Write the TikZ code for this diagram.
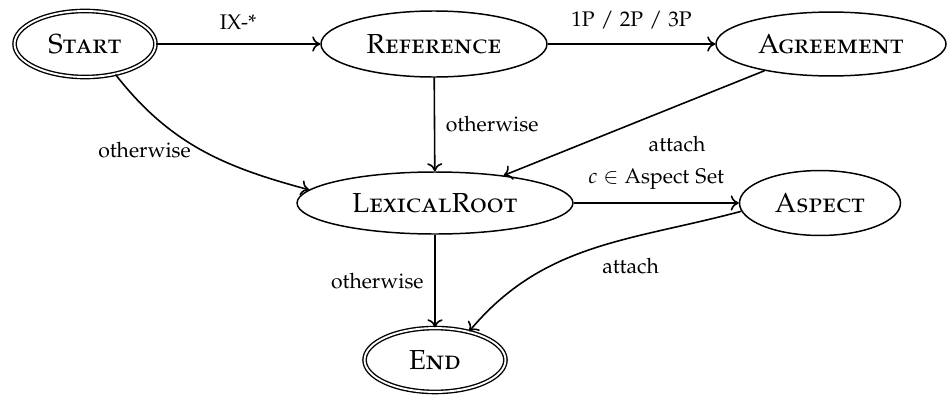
\documentclass[tikz,border=0pt]{standalone}
\usepackage[T1]{fontenc}
\usepackage[sc]{mathpazo}
\usetikzlibrary{shapes.geometric,arrows.meta}
\begin{document}
\begin{tikzpicture}[x=0.4726pt,y=-0.4726pt,
  st/.style={ellipse, draw, line width=0.7pt, inner sep=0pt, font=\fontsize{13}{15}\selectfont\scshape},
  fin/.style={st, double, double distance=0.9pt, line width=0.65pt},
  arr/.style={draw, line width=0.75pt, -{To[length=3.8pt,width=7.2pt]}},
  lbl/.style={inner sep=0pt, font=\normalsize}]
\useasboundingbox (0,0) rectangle (951,396);
\node[fin, minimum width=66.6pt, minimum height=31.2pt] (start) at (85,44) {Start};
\node[st, minimum width=106.8pt, minimum height=31.2pt] (ref) at (434,44) {Reference};
\node[st, minimum width=108.7pt, minimum height=30.2pt] (agr) at (831,44) {Agreement};
\node[st, minimum width=130.4pt, minimum height=29.3pt] (lex) at (435,203) {LexicalRoot};
\node[st, minimum width=76.1pt, minimum height=30.7pt] (asp) at (820,203) {Aspect};
\node[fin, minimum width=66.6pt, minimum height=30.2pt] (end) at (435,360) {End};

\draw[arr] (start) -- node[lbl, above=6.5pt] (l1) {IX-*} (ref);
\draw[arr] (ref) -- node[lbl, above=6.5pt] (l2) {1P / 2P / 3P} (agr);
\draw[arr] (ref) -- node[lbl, right=5pt] (l3) {otherwise} (lex);
\draw[arr] (agr) -- node[lbl, pos=0.4, xshift=8pt, yshift=-14.7pt] (l4) {attach} (lex);
\draw[arr] (start.-45) to[out=-52,in=165] node[lbl, pos=0.5, xshift=-26.5pt] (l5) {otherwise} (lex.174);
\draw[arr] (lex) -- node[lbl, above=6pt] (l6) {$c \in$ Aspect Set} (asp);
\draw[arr] (lex) -- node[lbl, left=5pt] (l7) {otherwise} (end);
\draw[arr] (asp.186) to[out=195,in=50] node[lbl, pos=0.35, xshift=-1pt, yshift=-13.7pt] (l8) {attach} (end.40);
\end{tikzpicture}
\end{document}
